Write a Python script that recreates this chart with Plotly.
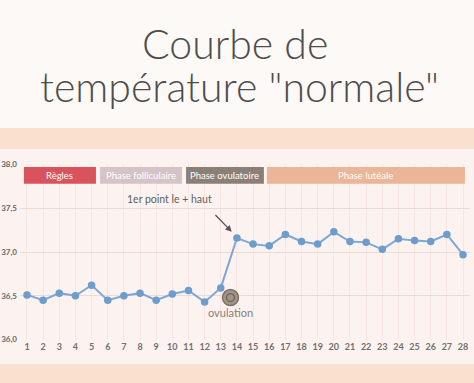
import plotly.graph_objects as go

days = list(range(1, 29))
temps = [36.51, 36.45, 36.53, 36.50, 36.62, 36.45, 36.50, 36.53, 36.45, 36.52,
         36.56, 36.43, 36.59, 37.16, 37.09, 37.07, 37.20, 37.12, 37.09, 37.23,
         37.12, 37.11, 37.03, 37.15, 37.13, 37.12, 37.20, 36.97]
y_ticks = [36.0, 36.5, 37.0, 37.5, 38.0]
phase_names = ["Règles", "Phase folliculaire", "Phase ovulatoire", "Phase lutéale"]
phase_start = [0.81, 5.52, 10.85, 15.86]
phase_end = [5.27, 10.6, 15.67, 28.12]
phase_colors = ["#d9535c", "#d5c3c8", "#8b8078", "#ebb597"]
title_lines = ["Courbe de", "température \"normale\""]
peak_label = "1er point le + haut"
ovulation_label = "ovulation"
ovulation_day = 13.6

W, H = 474, 383
L, R, T, B = 20, 4, 164, 43
ph = H - T - B
pw = W - L - R

def py(px):
    return (H - B - px) / ph

def pxx(px):
    return (px - L) / pw

FONT = "Lato, sans-serif"
TITLE_FONT = "'Lato Light', 'Lato Hairline', Lato, sans-serif"

fig = go.Figure()

fig.add_trace(go.Scatter(
    x=days, y=temps, mode="lines+markers",
    line=dict(color="#7ea8d3", width=2),
    marker=dict(color="#6c9dcd", size=7.5),
    hoverinfo="skip", showlegend=False,
))

# ovulation icon
fig.add_trace(go.Scatter(
    x=[ovulation_day], y=[36.48], mode="markers",
    marker=dict(color="#a39388", size=16, line=dict(color="#7f7168", width=1.5)),
    hoverinfo="skip", showlegend=False,
))
fig.add_trace(go.Scatter(
    x=[ovulation_day], y=[36.48], mode="markers",
    marker=dict(color="rgba(0,0,0,0)", size=8, line=dict(color="#6f625a", width=1.2)),
    hoverinfo="skip", showlegend=False,
))

shapes = [
    dict(type="rect", xref="paper", yref="paper", x0=-0.1, x1=1.1, y0=py(0), y1=py(128),
         fillcolor="#fdf9f7", line_width=0, layer="below"),
    dict(type="rect", xref="paper", yref="paper", x0=-0.1, x1=1.1, y0=py(128), y1=py(149),
         fillcolor="#f8e2cf", line_width=0, layer="below"),
    dict(type="rect", xref="paper", yref="paper", x0=-0.1, x1=1.1, y0=py(364), y1=py(383),
         fillcolor="#f8e2cf", line_width=0, layer="below"),
]
annotations = []
for n, s, e, c in zip(phase_names, phase_start, phase_end, phase_colors):
    shapes.append(dict(type="rect", xref="x", yref="y", x0=s, x1=e, y0=37.78, y1=37.97,
                       fillcolor=c, line_width=0, layer="above"))
    annotations.append(dict(x=(s + e) / 2, y=37.875, xref="x", yref="y", text=n,
                            showarrow=False, xanchor="center", yanchor="middle",
                            font=dict(color="white", size=9.5, family=FONT)))

annotations.append(dict(xref="paper", yref="paper", x=pxx(235), y=py(43),
                        text=title_lines[0], showarrow=False, xanchor="center", yanchor="middle",
                        font=dict(size=41, color="#4d4d4d", family=TITLE_FONT, weight=300)))
annotations.append(dict(xref="paper", yref="paper", x=pxx(239), y=py(86),
                        text=title_lines[1], showarrow=False, xanchor="center", yanchor="middle",
                        font=dict(size=41, color="#4d4d4d", family=TITLE_FONT, weight=300)))

annotations.append(dict(x=9.8, y=37.6, xref="x", yref="y", text=peak_label, showarrow=False,
                        xanchor="center", yanchor="middle",
                        font=dict(size=10.5, color="#5f5f5f", family=FONT)))
annotations.append(dict(x=13.68, y=37.23, xref="x", yref="y", ax=12.58, ay=37.44,
                        axref="x", ayref="y", text="", showarrow=True, arrowhead=2,
                        arrowsize=1, arrowwidth=1.3, arrowcolor="#555555"))
annotations.append(dict(x=ovulation_day, y=36.305, xref="x", yref="y", text=ovulation_label,
                        showarrow=False, xanchor="center", yanchor="middle",
                        font=dict(size=11, color="#8a7d75", family=FONT)))

fig.update_layout(
    width=W, height=H,
    margin=dict(l=L, r=R, t=T, b=B, pad=0, autoexpand=False),
    paper_bgcolor="#fcf2ef", plot_bgcolor="rgba(0,0,0,0)",
    separators=", ",
    shapes=shapes, annotations=annotations,
    showlegend=False,
)
fig.update_xaxes(range=[0.567, 28.433], tickvals=days, showgrid=True, gridcolor="#f6e6e3",
                 gridwidth=1, zeroline=False, showline=False, ticks="",
                 tickfont=dict(size=9, color="#707070", family=FONT, weight=700),
                 fixedrange=True, automargin=False)
fig.update_yaxes(range=[35.995, 38.005], tickvals=y_ticks, tickformat=".1f", showgrid=True,
                 gridcolor="#e9dcd8", gridwidth=1.2, zeroline=False, showline=False, ticks="",
                 tickfont=dict(size=8, color="#6a6a6a", family=FONT, weight=700),
                 ticklabelstandoff=2, fixedrange=True, automargin=False)

fig.write_html("out.html", config={"displayModeBar": False},
               post_script="document.body.style.margin='0';")
